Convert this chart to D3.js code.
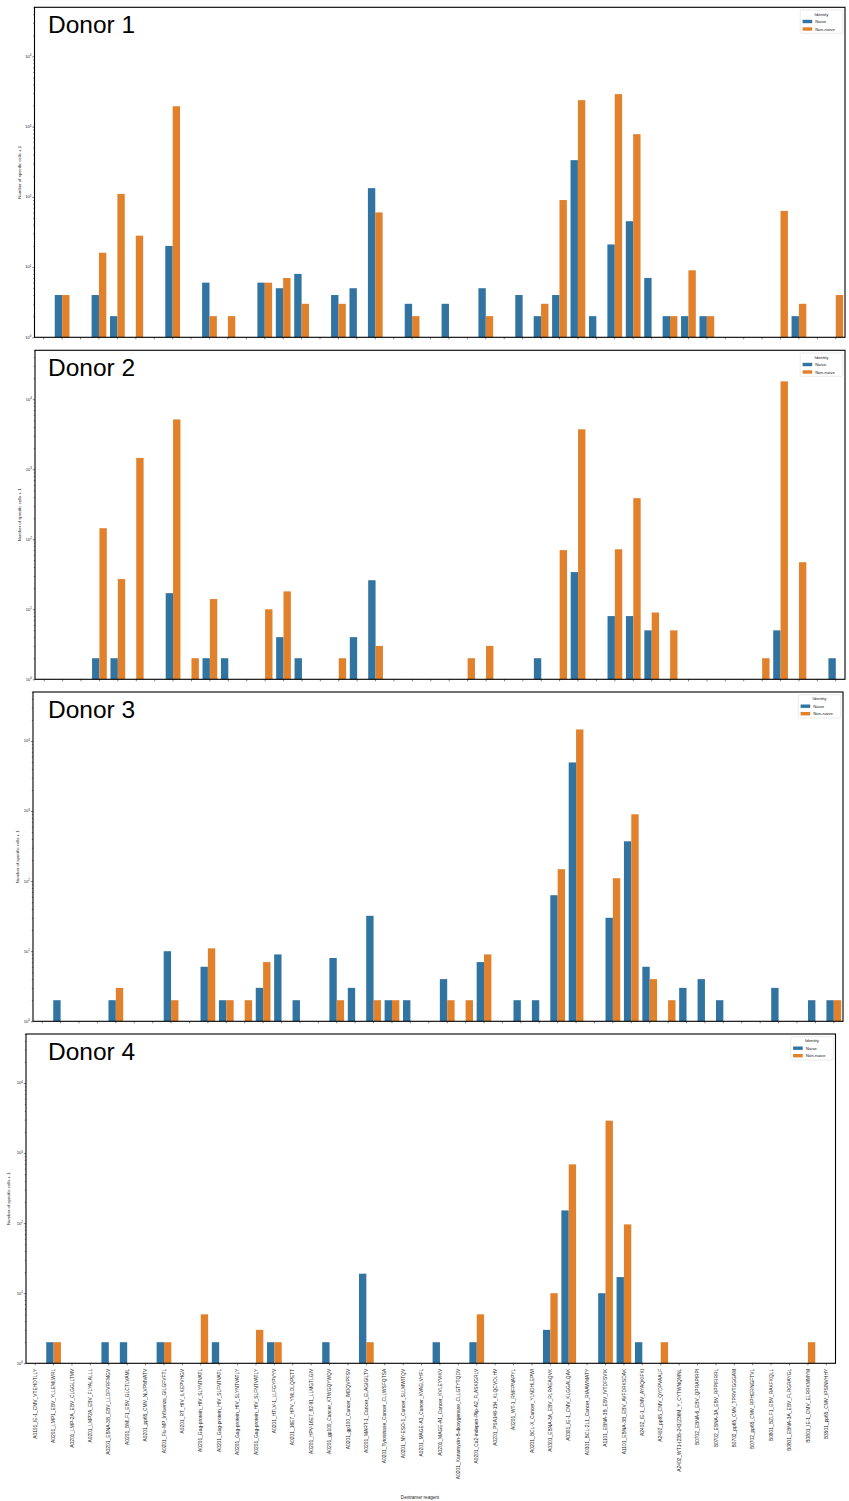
<!DOCTYPE html>
<html>
<head>
<meta charset="utf-8">
<script src="https://cdn.jsdelivr.net/npm/d3@7"></script>
<style>
  html, body { margin: 0; padding: 0; background: #ffffff; }
  svg { display: block; font-family: "Liberation Sans", Arial, Helvetica, sans-serif; }
</style>
</head>
<body>
<svg id="chart" width="849" height="1501"></svg>
<script>
// Dextramer reagents (HLA_protein_source_peptide)
const categories = [
  "A0101_IE-1_CMV_VTEHDTLLY",
  "A0201_LMP1_EBV_YLLEMLWRL",
  "A0201_LMP-2A_EBV_CLGGLLTMV",
  "A0201_LMP2A_EBV_FLYALALLL",
  "A0201_EBNA-3B_EBV_LLDFVRFMGV",
  "A0201_BMLF1_EBV_GLCTLVAML",
  "A0201_pp65_CMV_NLVPMVATV",
  "A0201_Flu-MP_Influenza_GILGFVFTL",
  "A0201_RT_HIV_ILKEPVHGV",
  "A0201_Gag-protein_HIV_SLYNTVATL",
  "A0201_Gag-protein_HIV_SLFNTVATL",
  "A0201_Gag-protein_HIV_SLYNTVATLY",
  "A0201_Gag-protein_HIV_SLFNTVATLY",
  "A0201_HTLV-1_LLFGYPVYV",
  "A0201_16E7_HPV_YMLDLQPETT",
  "A0201_HPV-16E7_82-91_LLMGTLGIV",
  "A0201_gp100_Cancer_KTWGQYWQV",
  "A0201_gp100_Cancer_IMDQVPFSV",
  "A0201_MART-1_Cancer_ELAGIGILTV",
  "A0201_Tyrosinase_Cancer_CLLWSFQTSA",
  "A0201_NY-ESO-1_Cancer_SLLMWITQV",
  "A0201_MAGE-A3_Cancer_KVAELVHFL",
  "A0201_MAGE-A1_Cancer_KVLEYVIKV",
  "A0201_Kanamycin-B-dioxygenase_CLLGTYTQDV",
  "A0201_Ca2-indepen-Plip-A2_FLASKIGRLV",
  "A0201_PSA146-154_KLQCVDLHV",
  "A0201_WT-1_RMFPNAPYL",
  "A0201_BCL-X_Cancer_YLNDHLEPWI",
  "A0301_EBNA-3A_EBV_RLRAEAQVK",
  "A0301_IE-1_CMV_KLGGALQAK",
  "A0301_BCL-2L1_Cancer_RIAAWMATY",
  "A1101_EBNA-3B_EBV_IVTDFSVIK",
  "A1101_EBNA-3B_EBV_AVFDRKSDAK",
  "A2402_IE-1_CMV_AYAQKIFKI",
  "A2402_pp65_CMV_QYDPVAALF",
  "A2402_WT1-(235-243)236M_Y_CYTWNQMNL",
  "B0702_EBNA-6_EBV_QPRAPIRPI",
  "B0702_EBNA-3A_EBV_RPPIFIRRL",
  "B0702_pp65_CMV_TPRVTGGGAM",
  "B0702_pp65_CMV_RPHERNGFTVL",
  "B0801_BZLF1_EBV_RAKFKQLL",
  "B0801_EBNA-3A_EBV_FLRGRAYGL",
  "B0801_IE-1_CMV_ELRRKMMYM",
  "B3501_pp65_CMV_IPSINVHHY"
];

const identities = ["Naive", "Non-naive"];
const donorTitles = ["Donor 1", "Donor 2", "Donor 3", "Donor 4"];

// Number of specific cells + 1, per reagent (same order as categories)
const donor1Naive = [1,4,1,4,2,1,1,20,1,6,1,1,6,5,8,1,4,5,133,1,3,1,3,1,5,1,4,2,4,333,2,21,45,7,2,2,2,1,1,1,1,2,1,1];
const donor1NonNaive = [1,4,1,16,110,28,1,1950,1,2,2,1,6,7,3,1,3,1,60,1,2,1,1,1,2,1,1,3,90,2380,1,2900,780,1,2,9,2,1,1,1,63,3,1,4];

const donor2Naive = [1,1,1,2,2,1,1,17,1,2,2,1,1,4,2,1,1,4,26,1,1,1,1,1,1,1,1,2,1,34,1,8,8,5,1,1,1,1,1,1,5,1,1,2];
const donor2NonNaive = [1,1,1,144,27,1450,1,5150,2,14,1,1,10,18,1,1,2,1,3,1,1,1,1,2,3,1,1,1,70,3720,1,72,386,9,5,1,1,1,1,2,18000,47,1,1];

const donor3Naive = [1,2,1,1,2,1,1,10,1,6,2,1,3,9,2,1,8,3,32,2,2,1,4,1,7,1,2,2,63,4940,1,30,370,6,1,3,4,2,1,1,3,1,2,2];
const donor3NonNaive = [1,1,1,1,3,1,1,2,1,11,2,2,7,1,1,1,2,1,2,2,1,1,2,2,9,1,1,1,148,14600,1,110,900,4,2,1,1,1,1,1,1,1,1,2];

const donor4Naive = [1,2,1,1,2,2,1,2,1,1,2,1,1,2,1,1,2,1,19,1,1,1,2,1,2,1,1,1,3,152,1,10,17,2,1,1,1,1,1,1,1,1,1,1];
const donor4NonNaive = [1,2,1,1,1,1,1,2,1,5,1,1,3,2,1,1,1,1,2,1,1,1,1,1,5,1,1,1,10,690,1,2900,96,1,2,1,1,1,1,1,1,1,2,1];

const yTickExponents = [0, 1, 2, 3, 4];
const yDomain = [1, 50000];

const donorSeries = [
  [donor1Naive, donor1NonNaive],
  [donor2Naive, donor2NonNaive],
  [donor3Naive, donor3NonNaive],
  [donor4Naive, donor4NonNaive]
];

// Panel frames on the page
const frames = [
  { left: 34.5, right: 845, top: 7.3,   bottom: 337.3,  ylabX: 19.5 },
  { left: 35,   right: 845, top: 350.3, bottom: 679.3,  ylabX: 19.8 },
  { left: 33,   right: 843, top: 692,   bottom: 1021.3, ylabX: 17 },
  { left: 26,   right: 835.5, top: 1034, bottom: 1363.3, ylabX: 8.5 }
];
const titleX = 48;

const colors = d3.scaleOrdinal().domain(identities).range(["#3274a1", "#e1812c"]);
const svg = d3.select("#chart");

frames.forEach((f, p) => {
  const g = svg.append("g");
  const x = d3.scaleBand().domain(categories).range([f.left, f.right]).padding(0);
  const bw = x.bandwidth();
  const xHue = d3.scaleBand().domain(identities).range([0.1 * bw, 0.9 * bw]).padding(0);
  const y = d3.scaleLog().domain(yDomain).range([f.bottom, f.top]);

  // bars
  identities.forEach((id, h) => {
    const vals = donorSeries[p][h];
    g.append("g").selectAll("rect")
      .data(categories.map((c, i) => ({ c, v: vals[i] })))
      .join("rect")
      .attr("x", d => x(d.c) + xHue(id))
      .attr("width", xHue.bandwidth())
      .attr("y", d => y(d.v))
      .attr("height", d => Math.max(0, y(1) - y(d.v)))
      .attr("fill", colors(id));
  });

  // y axis: major and minor log ticks
  const majors = yTickExponents.map(e => Math.pow(10, e));
  const minors = [];
  for (let e = 0; e <= 4; e++) {
    for (let m = 2; m <= 9; m++) {
      const v = m * Math.pow(10, e);
      if (v <= yDomain[1]) minors.push(v);
    }
  }
  const yAxisMajor = d3.axisLeft(y).tickValues(majors).tickSize(2.2).tickFormat("");
  const yAxisMinor = d3.axisLeft(y).tickValues(minors).tickSize(1.2).tickFormat("");
  const ga = g.append("g").attr("transform", `translate(${f.left},0)`).call(yAxisMajor);
  const gm = g.append("g").attr("transform", `translate(${f.left},0)`).call(yAxisMinor);
  [ga, gm].forEach(a => {
    a.select(".domain").remove();
    a.selectAll("line").attr("stroke", "#000").attr("stroke-width", 0.5);
  });

  // y tick labels 10^e
  yTickExponents.forEach(e => {
    const t = g.append("text")
      .attr("x", f.left - 3.2)
      .attr("y", y(Math.pow(10, e)) + 1.4)
      .attr("text-anchor", "end")
      .attr("font-size", 4.1)
      .attr("fill", "#222");
    t.append("tspan").text("10");
    t.append("tspan").attr("dy", -1.5).attr("font-size", 2.9).text(String(e));
  });

  // x ticks
  const xAxis = d3.axisBottom(x).tickSize(2).tickFormat("");
  const gx = g.append("g").attr("transform", `translate(0,${f.bottom})`).call(xAxis);
  gx.select(".domain").remove();
  gx.selectAll("line").attr("stroke", "#000").attr("stroke-width", 0.5);

  // frame
  g.append("rect")
    .attr("x", f.left).attr("y", f.top)
    .attr("width", f.right - f.left).attr("height", f.bottom - f.top)
    .attr("fill", "none").attr("stroke", "#000").attr("stroke-width", 1.1);

  // y label
  g.append("text")
    .attr("transform", `translate(${f.ylabX},${(f.top + f.bottom) / 2}) rotate(-90)`)
    .attr("text-anchor", "middle")
    .attr("dy", "0.35em")
    .attr("font-size", 4.3)
    .attr("fill", "#222")
    .text("Number of specific cells + 1");

  // title
  g.append("text")
    .attr("x", titleX)
    .attr("y", f.top + 25.7)
    .attr("font-size", 24.5)
    .attr("fill", "#000")
    .text(donorTitles[p]);

  // legend
  const lw = 42.6, lh = 23.3;
  const lx = f.right - 2.2 - lw, ly = f.top + 2.7;
  const lg = g.append("g").attr("transform", `translate(${lx},${ly})`);
  lg.append("rect").attr("width", lw).attr("height", lh).attr("rx", 1)
    .attr("fill", "#fff").attr("stroke", "#d6d6d6").attr("stroke-width", 0.5);
  lg.append("text").attr("x", lw / 2).attr("y", 5.8).attr("text-anchor", "middle")
    .attr("font-size", 4.3).attr("fill", "#222").text("Identity");
  identities.forEach((id, k) => {
    lg.append("rect").attr("x", 2.4).attr("y", 9.8 + k * 7.5).attr("width", 9.6).attr("height", 3.4)
      .attr("fill", colors(id));
    lg.append("text").attr("x", 15).attr("y", 13.0 + k * 7.5)
      .attr("font-size", 4.3).attr("fill", "#222").text(id);
  });

  // category labels only under the last panel
  if (p === frames.length - 1) {
    g.append("g").selectAll("text")
      .data(categories)
      .join("text")
      .attr("transform", d => `translate(${x(d) + bw / 2 + 1.6},${f.bottom + 5.5}) rotate(-90)`)
      .attr("text-anchor", "end")
      .attr("font-size", 4.9)
      .attr("fill", "#222")
      .text(d => d);

    g.append("text")
      .attr("x", 420)
      .attr("y", 1498.5)
      .attr("text-anchor", "middle")
      .attr("font-size", 4.6)
      .attr("fill", "#222")
      .text("Dextramer reagent");
  }
});
</script>
</body>
</html>
